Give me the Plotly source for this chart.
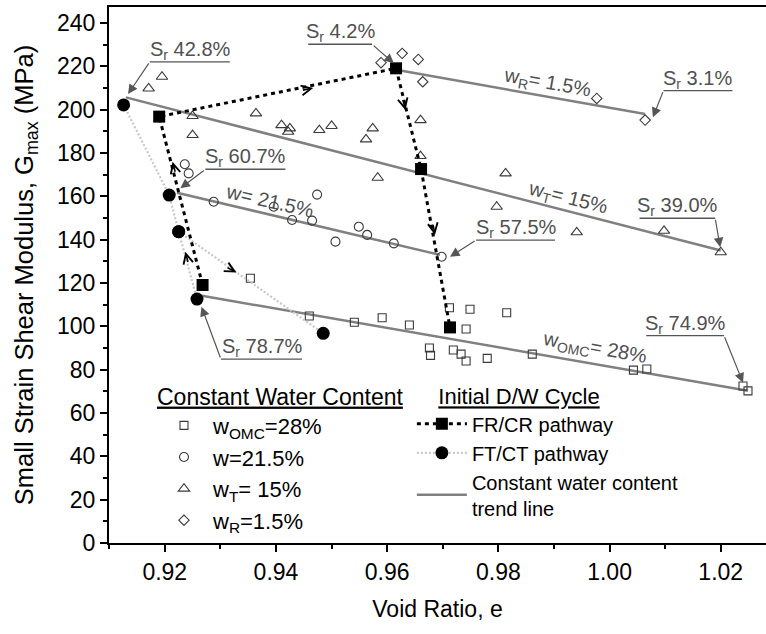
import plotly.graph_objects as go

# ---------------- data (void ratio e, Gmax MPa) ----------------
omc_e = [0.9354, 0.9460, 0.9541, 0.9591, 0.9640, 0.9676, 0.9678, 0.9712, 0.9749, 0.9815,
         0.9742, 0.9719, 0.9733, 0.9742, 0.9780, 0.9861, 1.0043, 1.0067, 1.0240, 1.0249]
omc_g = [122.2, 104.8, 101.9, 104.0, 100.6, 90.0, 86.6, 108.6, 107.9, 106.3,
         98.8, 89.1, 87.2, 84.0, 85.2, 87.2, 79.8, 80.3, 72.5, 70.2]

w215_e = [0.9236, 0.9243, 0.9288, 0.9474, 0.9396, 0.9429, 0.9465, 0.9507, 0.9549, 0.9564,
          0.9612, 0.9698]
w215_g = [174.8, 170.6, 157.5, 160.8, 155.2, 149.1, 148.8, 139.1, 146.0, 142.2,
          138.3, 132.1]

wt_e = [0.9171, 0.9195, 0.9250, 0.9250, 0.9364, 0.9410, 0.9425, 0.9422, 0.9478, 0.9500,
        0.9574, 0.9562, 0.9583, 0.9660, 0.9660, 0.9813, 0.9797, 0.9941, 1.0098, 1.0200]
wt_g = [209.8, 215.2, 197.1, 188.3, 198.3, 192.9, 191.4, 189.8, 190.6, 192.5,
        191.4, 186.3, 168.6, 195.2, 178.6, 170.6, 155.2, 143.4, 144.1, 134.2]

wr_e = [0.9589, 0.9627, 0.9656, 0.9664, 0.9977, 1.0064]
wr_g = [221.7, 226.0, 223.2, 212.9, 205.2, 195.2]

frcr_e = [0.9268, 0.9190, 0.9616, 0.9661, 0.9713]
frcr_g = [119.1, 196.8, 219.1, 172.6, 99.5]

ftct_e = [0.9126, 0.9208, 0.9225, 0.9258, None, 0.9225, 0.9485]
ftct_g = [202.2, 160.6, 143.7, 112.6, None, 143.7, 96.8]

# constant water content trend lines: (e_start, e_end), (G_start, G_end)
trend_omc_e, trend_omc_g = [0.9267, 1.0249], [114.1, 70.3]
trend_215_e, trend_215_g = [0.9222, 0.9695], [161.7, 133.0]
trend_t_e, trend_t_g = [0.9130, 1.0200], [205.7, 135.0]
trend_r_e, trend_r_g = [0.9616, 1.0064], [218.4, 198.0]

trend_labels = ["w<sub>OMC</sub>= 28%", "w= 21.5%", "w<sub>T</sub>= 15%", "w<sub>R</sub>= 1.5%"]
trend_label_e = [0.9974, 0.9390, 0.9925, 0.9889]
trend_label_g = [90.0, 157.8, 158.8, 212.3]
trend_label_angle = [10, 13, 14, 10]

# degree-of-saturation call-outs
sr_text = ["42.8%", "4.2%", "3.1%", "39.0%", "60.7%", "57.5%", "78.7%", "74.9%"]
sr_tip_e = [0.9134, 0.9612, 1.0078, 1.0199, 0.9228, 0.9713, 0.9266, 1.0240]
sr_tip_g = [207.2, 221.4, 196.5, 136.5, 163.7, 132.1, 109.1, 74.0]
sr_line_e0 = [0.9173, 0.9458, 1.0097, 1.0054, 0.9273, 0.9760, 0.9301, 1.0066]
sr_line_e1 = [0.9317, 0.9573, 1.0221, 1.0190, 0.9417, 0.9902, 0.9447, 1.0206]
sr_line_g = [222.1, 230.2, 208.8, 149.9, 172.5, 139.8, 84.9, 95.7]
sr_tail_side = [0, 1, 0, 1, 0, 0, 0, 1]   # 0 = leader leaves from left end, 1 = right end

# direction arrows on the pathways: tip (e, G) and screen direction
arr_e = [0.9467, 0.9633, 0.9686, 0.9214, 0.9237, 0.9329]
arr_g = [210.0, 199.8, 142.2, 176.0, 134.4, 124.8]
arr_dx = [0.980, 0.238, 0.182, -0.248, -0.248, 0.876]
arr_dy = [-0.200, 0.971, 0.983, -0.969, -0.969, 0.482]

FONT = "Liberation Sans, Arial, Helvetica, sans-serif"
MK = "#3a3a3a"
GREY_TXT = "#505050"

fig = go.Figure()

# trend lines
tx, ty = [], []
for e, g in [(trend_omc_e, trend_omc_g), (trend_215_e, trend_215_g),
             (trend_t_e, trend_t_g), (trend_r_e, trend_r_g)]:
    tx += e + [None]
    ty += g + [None]
fig.add_trace(go.Scatter(x=tx, y=ty, mode="lines", line=dict(color="#808080", width=2.5),
                         name="Constant water content<br>trend line", legend="legend2", legendrank=3))

# open symbols
for xs, ys, sym, sz, nm in [
    (omc_e, omc_g, "square-open", 8, "w<sub>OMC</sub>=28%"),
    (w215_e, w215_g, "circle-open", 9, "w=21.5%"),
    (wt_e, wt_g, "triangle-up-open", 10, "w<sub>T</sub>= 15%"),
    (wr_e, wr_g, "diamond-open", 8, "w<sub>R</sub>=1.5%"),
]:
    fig.add_trace(go.Scatter(x=xs, y=ys, mode="markers", name=nm, legend="legend",
                             marker=dict(symbol=sym, size=sz, color=MK, line=dict(width=1.1, color=MK))))

# pathways
fig.add_trace(go.Scatter(x=ftct_e, y=ftct_g, mode="lines+markers", name="FT/CT pathway",
                         legend="legend2", legendrank=2, connectgaps=False,
                         line=dict(color="#c8c8c8", width=2.2, dash="2px,2px"),
                         marker=dict(symbol="circle", size=13, color="black")))
fig.add_trace(go.Scatter(x=frcr_e, y=frcr_g, mode="lines+markers", name="FR/CR pathway",
                         legend="legend2", legendrank=1,
                         line=dict(color="black", width=3, dash="4px,4px"),
                         marker=dict(symbol="square", size=12, color="black")))

annotations = []
shapes = []

# trend line labels
for t, e, g, a in zip(trend_labels, trend_label_e, trend_label_g, trend_label_angle):
    annotations.append(dict(x=e, y=g, text=t, showarrow=False, textangle=a,
                            font=dict(family=FONT, size=20, color=GREY_TXT)))

# Sr call-outs
for t, te, tg, e0, e1, lg, side in zip(sr_text, sr_tip_e, sr_tip_g, sr_line_e0, sr_line_e1,
                                       sr_line_g, sr_tail_side):
    shapes.append(dict(type="line", xref="x", yref="y", x0=e0, x1=e1, y0=lg, y1=lg,
                       line=dict(color="#555555", width=1.3)))
    tail_e = e1 if side else e0
    annotations.append(dict(x=te, y=tg, ax=tail_e, ay=lg, axref="x", ayref="y", text="",
                            showarrow=True, arrowhead=2, arrowsize=1.6, arrowwidth=1.2,
                            arrowcolor="#555555", standoff=0))
    annotations.append(dict(x=(e0 + e1) / 2, y=lg, yanchor="bottom", text="S<sub>r</sub> " + t,
                            showarrow=False, yshift=-3,
                            font=dict(family=FONT, size=20, color=GREY_TXT)))

# pathway direction arrows
for e, g, dx, dy in zip(arr_e, arr_g, arr_dx, arr_dy):
    annotations.append(dict(x=e, y=g, ax=-dx * 12, ay=-dy * 12, text="", showarrow=True,
                            arrowhead=5, arrowsize=1.2, arrowwidth=1.6, arrowcolor="black",
                            standoff=0))

fig.update_layout(
    width=766, height=634,
    margin=dict(l=109, r=0, t=7, b=91),
    paper_bgcolor="white", plot_bgcolor="white",
    font=dict(family=FONT, size=23, color="black"),
    annotations=annotations, shapes=shapes,
    legend=dict(x=0.070, y=0.314, xanchor="left", yanchor="top", bgcolor="rgba(0,0,0,0)",
                title=dict(text="<u>Constant Water Content</u>", font=dict(size=23)),
                font=dict(size=22), itemwidth=48, tracegroupgap=0),
    legend2=dict(x=0.461, y=0.312, xanchor="left", yanchor="top", bgcolor="rgba(0,0,0,0)",
                 title=dict(text="\u00a0\u00a0\u00a0\u00a0<u>Initial D/W Cycle</u>", font=dict(size=22)),
                 font=dict(size=20), itemwidth=50, tracegroupgap=0),
    xaxis=dict(range=[0.90997, 1.02814], showline=True, linewidth=2, linecolor="black",
               mirror=True, ticks="outside", ticklen=7, tickwidth=2, tickcolor="black",
               tick0=0.92, dtick=0.02, tickformat=".2f", showgrid=False, zeroline=False,
               tickfont=dict(size=23),
               minor=dict(dtick=0.01, tick0=0.91, ticks="outside", ticklen=4, tickwidth=2,
                          tickcolor="black", showgrid=False),
               title=dict(text="Void Ratio, e", font=dict(size=23), standoff=17)),
    yaxis=dict(range=[0, 247.4], showline=True, linewidth=2, linecolor="black",
               ticks="outside", ticklen=7, tickwidth=2, tickcolor="black",
               dtick=20, showgrid=False, zeroline=False, tickfont=dict(size=23),
               minor=dict(dtick=10, ticks="outside", ticklen=4, tickwidth=2,
                          tickcolor="black", showgrid=False),
               title=dict(text="Small Strain Shear Modulus, G<sub>max</sub> (MPa)",
                          font=dict(size=25.5), standoff=16)),
)

fig.write_html("out.html")
